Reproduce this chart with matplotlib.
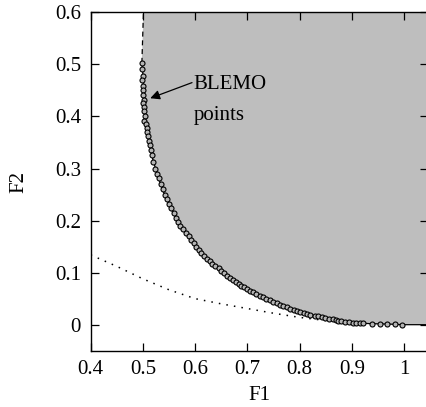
import matplotlib
matplotlib.use("Agg")
import matplotlib.pyplot as plt

plt.rcParams["font.family"] = ["Liberation Serif", "DejaVu Serif"]

# Pareto front
front_f1 = [0.498, 0.500, 0.501, 0.502, 0.503, 0.504, 0.508, 0.512, 0.519, 0.525,
            0.531, 0.538, 0.546, 0.555, 0.565, 0.577, 0.590, 0.600, 0.609, 0.619,
            0.629, 0.638, 0.648, 0.657, 0.667, 0.676, 0.686, 0.695, 0.705, 0.715,
            0.724, 0.734, 0.744, 0.754, 0.763, 0.772, 0.782, 0.792, 0.801, 0.811,
            0.820, 0.830, 0.839, 0.849, 0.858, 0.868, 0.877, 0.887, 0.897, 0.906,
            0.916, 0.935, 0.954, 0.975, 0.996, 1.046]
front_f2 = [0.503, 0.480, 0.450, 0.430, 0.410, 0.390, 0.370, 0.355, 0.317, 0.297,
            0.278, 0.258, 0.240, 0.220, 0.201, 0.183, 0.167, 0.153, 0.140, 0.130,
            0.121, 0.113, 0.105, 0.097, 0.090, 0.083, 0.076, 0.071, 0.065, 0.060,
            0.056, 0.051, 0.047, 0.042, 0.038, 0.035, 0.031, 0.028, 0.025, 0.022,
            0.019, 0.017, 0.015, 0.013, 0.011, 0.009, 0.007, 0.006, 0.005, 0.004,
            0.003, 0.002, 0.0015, 0.001, 0.000, 0.000]

# vertical dashed boundary
dash_f1 = [0.498, 0.501]
dash_f2 = [0.503, 0.600]

# dotted curve
dot_f1 = [0.40, 0.45, 0.50, 0.55, 0.60, 0.65, 0.70, 0.75, 0.80, 0.85, 0.88]
dot_f2 = [0.134, 0.112, 0.088, 0.067, 0.050, 0.040, 0.031, 0.022, 0.014, 0.008, 0.005]

# BLEMO points
blemo_f1 = [0.498, 0.499, 0.500, 0.499, 0.500, 0.501, 0.500, 0.502, 0.501, 0.503,
            0.502, 0.504, 0.503, 0.505, 0.507, 0.508, 0.510, 0.511, 0.513, 0.515,
            0.517, 0.520, 0.524, 0.527, 0.530, 0.534, 0.538, 0.542, 0.546, 0.550,
            0.554, 0.559, 0.563, 0.568, 0.571, 0.577, 0.583, 0.588, 0.593, 0.597,
            0.602, 0.607, 0.611, 0.617, 0.622, 0.628, 0.633, 0.638, 0.645, 0.650,
            0.655, 0.661, 0.667, 0.672, 0.678, 0.683, 0.688, 0.693, 0.699, 0.705,
            0.710, 0.717, 0.724, 0.729, 0.736, 0.744, 0.750, 0.757, 0.763, 0.769,
            0.775, 0.782, 0.789, 0.795, 0.801, 0.808, 0.815, 0.820, 0.829, 0.835,
            0.843, 0.849, 0.857, 0.863, 0.869, 0.874, 0.879, 0.886, 0.894, 0.902,
            0.908, 0.915, 0.922, 0.938, 0.953, 0.967, 0.982, 0.996]
blemo_f2 = [0.502, 0.492, 0.478, 0.470, 0.458, 0.450, 0.441, 0.432, 0.425, 0.418,
            0.410, 0.400, 0.392, 0.385, 0.378, 0.371, 0.362, 0.352, 0.345, 0.336,
            0.325, 0.312, 0.300, 0.290, 0.281, 0.270, 0.260, 0.250, 0.241, 0.232,
            0.224, 0.214, 0.205, 0.197, 0.190, 0.183, 0.176, 0.170, 0.163, 0.157,
            0.150, 0.144, 0.138, 0.132, 0.127, 0.122, 0.117, 0.113, 0.108, 0.103,
            0.099, 0.094, 0.090, 0.086, 0.082, 0.078, 0.075, 0.072, 0.068, 0.065,
            0.062, 0.059, 0.056, 0.053, 0.050, 0.047, 0.044, 0.041, 0.038, 0.036,
            0.034, 0.031, 0.029, 0.027, 0.025, 0.023, 0.021, 0.019, 0.017, 0.016,
            0.014, 0.013, 0.011, 0.010, 0.009, 0.008, 0.007, 0.006, 0.005, 0.004,
            0.004, 0.003, 0.003, 0.002, 0.0015, 0.001, 0.0005, 0.000]

x_ticks = [0.4, 0.5, 0.6, 0.7, 0.8, 0.9, 1.0]
x_labels = ["0.4", "0.5", "0.6", "0.7", "0.8", "0.9", "1"]
y_ticks = [0, 0.1, 0.2, 0.3, 0.4, 0.5, 0.6]
y_labels = ["0", "0.1", "0.2", "0.3", "0.4", "0.5", "0.6"]
xlim = (0.4, 1.046)
ylim = (-0.05, 0.6)

fig = plt.figure(figsize=(4.26, 4.07), dpi=100)
ax = fig.add_axes([0.2129, 0.1383, 0.792, 0.8314])

# shaded feasible region: dashed edge, front, then the top-right corner
poly_x = dash_f1[::-1] + front_f1 + [xlim[1]]
poly_y = dash_f2[::-1] + front_f2 + [ylim[1]]
ax.fill(poly_x, poly_y, color="#bebebe", lw=0, zorder=1)

ax.plot(dash_f1, dash_f2, color="black", lw=0.9, ls=(0, (4, 3)), zorder=2)
ax.plot(front_f1, front_f2, color="black", lw=0.9, zorder=2)
ax.plot(dot_f1, dot_f2, color="black", lw=1.1, ls=(0, (1, 4)), zorder=2)
ax.plot(blemo_f1, blemo_f2, ls="none", marker="o", ms=3.6, mfc="#b4b4b4",
        mec="black", mew=0.8, zorder=3)

ax.annotate("", xy=(0.514, 0.435), xytext=(0.594, 0.465),
            arrowprops=dict(arrowstyle="-|>", color="black", lw=0.9,
                            mutation_scale=14, shrinkA=0, shrinkB=0))
ax.text(0.596, 0.462, "BLEMO", fontsize=15, va="center", ha="left")
ax.text(0.597, 0.402, "points", fontsize=15, va="center", ha="left")

ax.set_xlim(*xlim)
ax.set_ylim(*ylim)
ax.set_xticks(x_ticks)
ax.set_xticklabels(x_labels)
ax.set_yticks(y_ticks)
ax.set_yticklabels(y_labels)
ax.tick_params(direction="in", length=6, width=0.9, top=True, right=True,
               labelsize=15, pad=7)
ax.set_xlabel("F1", fontsize=15, labelpad=5)
ax.set_ylabel("F2", fontsize=15, labelpad=19)
for s in ax.spines.values():
    s.set_linewidth(1.0)

fig.savefig("out.png", dpi=100)
